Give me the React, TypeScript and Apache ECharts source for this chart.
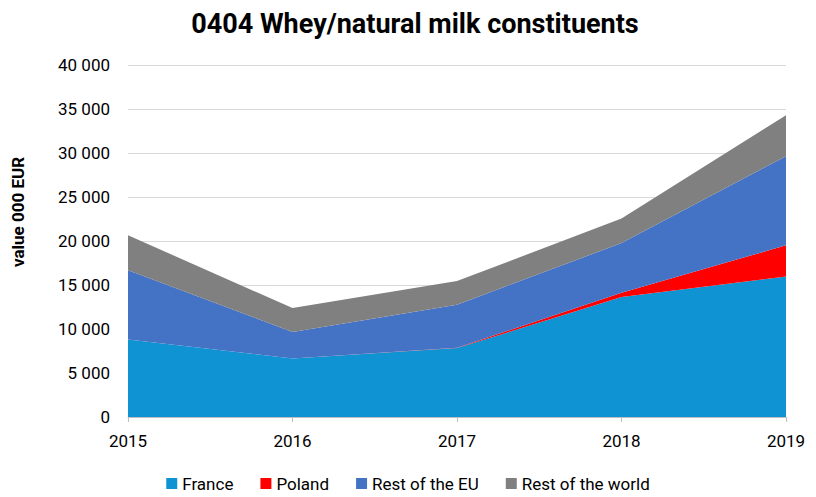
import React, { useEffect, useRef } from "react";
import * as echarts from "echarts";

const years = ["2015", "2016", "2017", "2018", "2019"];
const france = [8820, 6660, 7830, 13630, 15980];
const poland = [0, 0, 30, 500, 3530];
const restEU = [7850, 2990, 4900, 5640, 10130];
const restWorld = [3980, 2730, 2690, 2780, 4660];

const seriesNames = ["France", "Poland", "Rest of the EU", "Rest of the world"];
const seriesColors = ["#0F93D2", "#FF0000", "#4472C4", "#808080"];
const seriesData = [france, poland, restEU, restWorld];

const FONT = "Roboto, 'Noto Sans', sans-serif";

export default function App() {
  const ref = useRef<HTMLDivElement>(null);
  useEffect(() => {
    if (!ref.current) return;
    const chart = echarts.init(ref.current, undefined, { renderer: "svg" });
    chart.setOption({
      animation: false,
      backgroundColor: "#ffffff",
      title: {
        text: "0404 Whey/natural milk constituents",
        left: 410,
        textAlign: "center",
        top: 5,
        textStyle: { fontFamily: FONT, fontWeight: "bold", fontSize: 27, color: "#000" },
      },
      legend: {
        top: 475,
        left: "center",
        padding: 0,
        itemWidth: 11,
        itemHeight: 11,
        itemGap: 27,
        icon: "rect",
        textStyle: { fontFamily: FONT, fontSize: 17, color: "#000" },
        data: seriesNames,
      },
      grid: { left: 128, right: 30, top: 65, bottom: 80 },
      xAxis: {
        type: "category",
        boundaryGap: false,
        data: years,
        axisLine: { lineStyle: { color: "#BFBFBF", width: 1 } },
        axisTick: { show: true, length: 5, lineStyle: { color: "#BFBFBF" } },
        axisLabel: { fontFamily: FONT, fontSize: 17, color: "#000", margin: 15 },
      },
      yAxis: {
        type: "value",
        min: 0,
        max: 40000,
        interval: 5000,
        axisLine: { show: false },
        axisTick: { show: false },
        splitLine: { lineStyle: { color: "#D9D9D9", width: 1 } },
        axisLabel: {
          fontFamily: FONT,
          fontSize: 17,
          color: "#000",
          margin: 18,
          formatter: (v: number) => (v >= 1000 ? `${Math.floor(v / 1000)} ${String(v % 1000).padStart(3, "0")}` : `${v}`),
        },
      },
      graphic: [
        {
          type: "text",
          x: 18,
          y: 212,
          rotation: Math.PI / 2,
          style: {
            text: "value 000 EUR",
            fontFamily: FONT,
            fontWeight: "bold",
            fontSize: 17,
            fill: "#000",
            align: "center",
            verticalAlign: "middle",
          },
        },
      ],
      series: seriesNames.map((name, i) => ({
        name,
        type: "line",
        stack: "total",
        data: seriesData[i],
        symbol: "none",
        lineStyle: { width: 0 },
        areaStyle: { color: seriesColors[i], opacity: 1 },
        itemStyle: { color: seriesColors[i] },
      })),
    });
    return () => chart.dispose();
  }, []);
  return <div ref={ref} style={{ position: "fixed", left: 0, top: 0, width: 816, height: 497 }} />;
}
